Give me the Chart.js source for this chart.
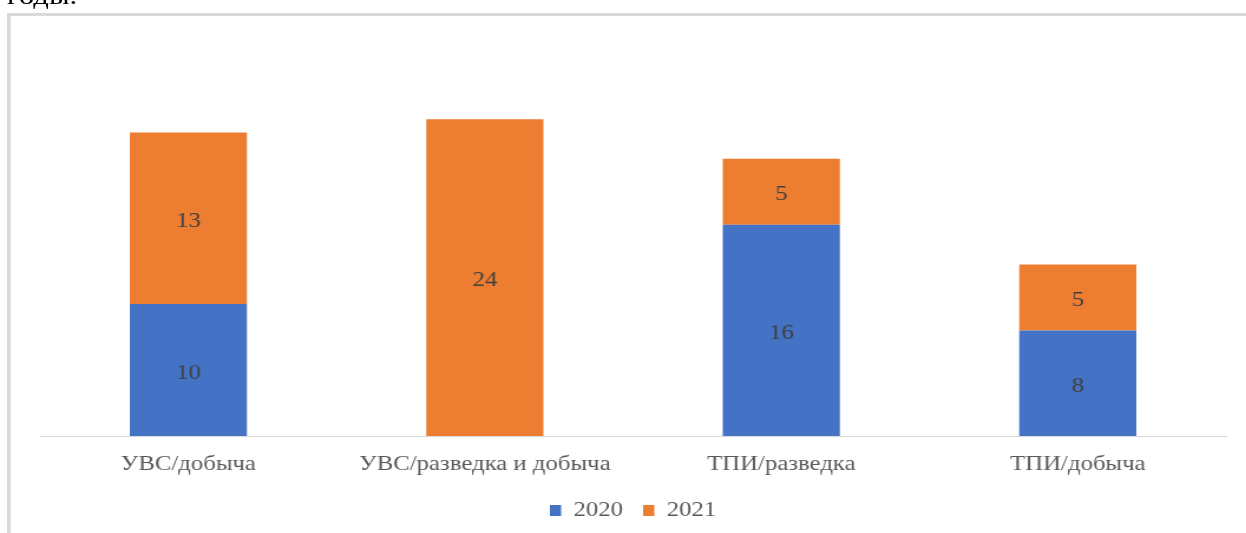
<!DOCTYPE html>
<html>
<head>
<meta charset="utf-8">
<script src="https://cdn.jsdelivr.net/npm/chart.js@4/dist/chart.umd.min.js"></script>
<style>
  html, body { margin: 0; padding: 0; background: #fff; overflow: hidden; width: 1246px; height: 533px; }
  #stage { position: absolute; left: 0; top: 0; width: 1056px; height: 533px; transform: scaleX(1.18); transform-origin: 0 0; }
  #caption { position: absolute; left: 6px; top: -17px; font: 26px "Liberation Serif", serif; color: #000; line-height: 26px; white-space: nowrap; }
  #frame { position: absolute; left: 6px; top: 13px; width: 2000px; height: 1000px; border-left: 3px solid #d9d9d9; border-top: 3px solid #d9d9d9; box-sizing: border-box; }
  #wrap { position: absolute; left: 0; top: 0; width: 1056px; height: 533px; }
</style>
</head>
<body>
<div id="stage">
  <div id="caption">годы.</div>
  <div id="frame"></div>
  <div id="wrap"><canvas id="c"></canvas></div>
</div>
<script>
const categories = ['УВС/добыча', 'УВС/разведка и добыча', 'ТПИ/разведка', 'ТПИ/добыча'];
const seriesNames = ['2020', '2021'];
const values2020 = [10, null, 16, 8];
const values2021 = [13, 24, 5, 5];
const yMax = 30;

const PAD_BOTTOM = 2;
const PLOT_BOTTOM = 436;

const valueLabels = {
  id: 'valueLabels',
  afterDatasetsDraw(chart) {
    const ctx = chart.ctx;
    ctx.save();
    ctx.font = '21px "Liberation Serif", serif';
    ctx.fillStyle = '#404040';
    ctx.textAlign = 'center';
    ctx.textBaseline = 'middle';
    chart.data.datasets.forEach((ds, di) => {
      const meta = chart.getDatasetMeta(di);
      meta.data.forEach((el, i) => {
        const v = ds.data[i];
        if (v === null || v === undefined || v === 0) return;
        ctx.fillText(String(v), el.x, (el.y + el.base) / 2 + 3);
      });
    });
    ctx.restore();
  }
};

new Chart(document.getElementById('c'), {
  type: 'bar',
  data: {
    labels: categories,
    datasets: [
      { label: seriesNames[0], data: values2020, backgroundColor: '#4472C4', borderWidth: 0 },
      { label: seriesNames[1], data: values2021, backgroundColor: '#ED7D31', borderWidth: 0 }
    ]
  },
  plugins: [valueLabels],
  options: {
    responsive: true,
    maintainAspectRatio: false,
    animation: false,
    layout: { padding: { left: 34, right: 17, top: 40, bottom: PAD_BOTTOM } },
    plugins: {
      tooltip: { enabled: false },
      legend: {
        position: 'bottom',
        labels: {
          boxWidth: 9.5, boxHeight: 11, padding: 17,
          color: '#595959',
          font: { family: '"Liberation Serif", serif', size: 21 }
        }
      }
    },
    scales: {
      x: {
        stacked: true,
        grid: { display: false },
        border: { display: true, color: '#d9d9d9', width: 1 },
        ticks: { color: '#595959', padding: 8, font: { family: '"Liberation Serif", serif', size: 21 } },
        afterFit(scale) {
          const lg = scale.chart.legend;
          if (lg && lg.height) {
            scale.height = scale.chart.height - PAD_BOTTOM - lg.height - PLOT_BOTTOM;
          }
        }
      },
      y: {
        stacked: true,
        min: 0, max: yMax,
        display: false
      }
    },
    datasets: { bar: { categoryPercentage: 1, barPercentage: 0.395 } }
  }
});
</script>
</body>
</html>
